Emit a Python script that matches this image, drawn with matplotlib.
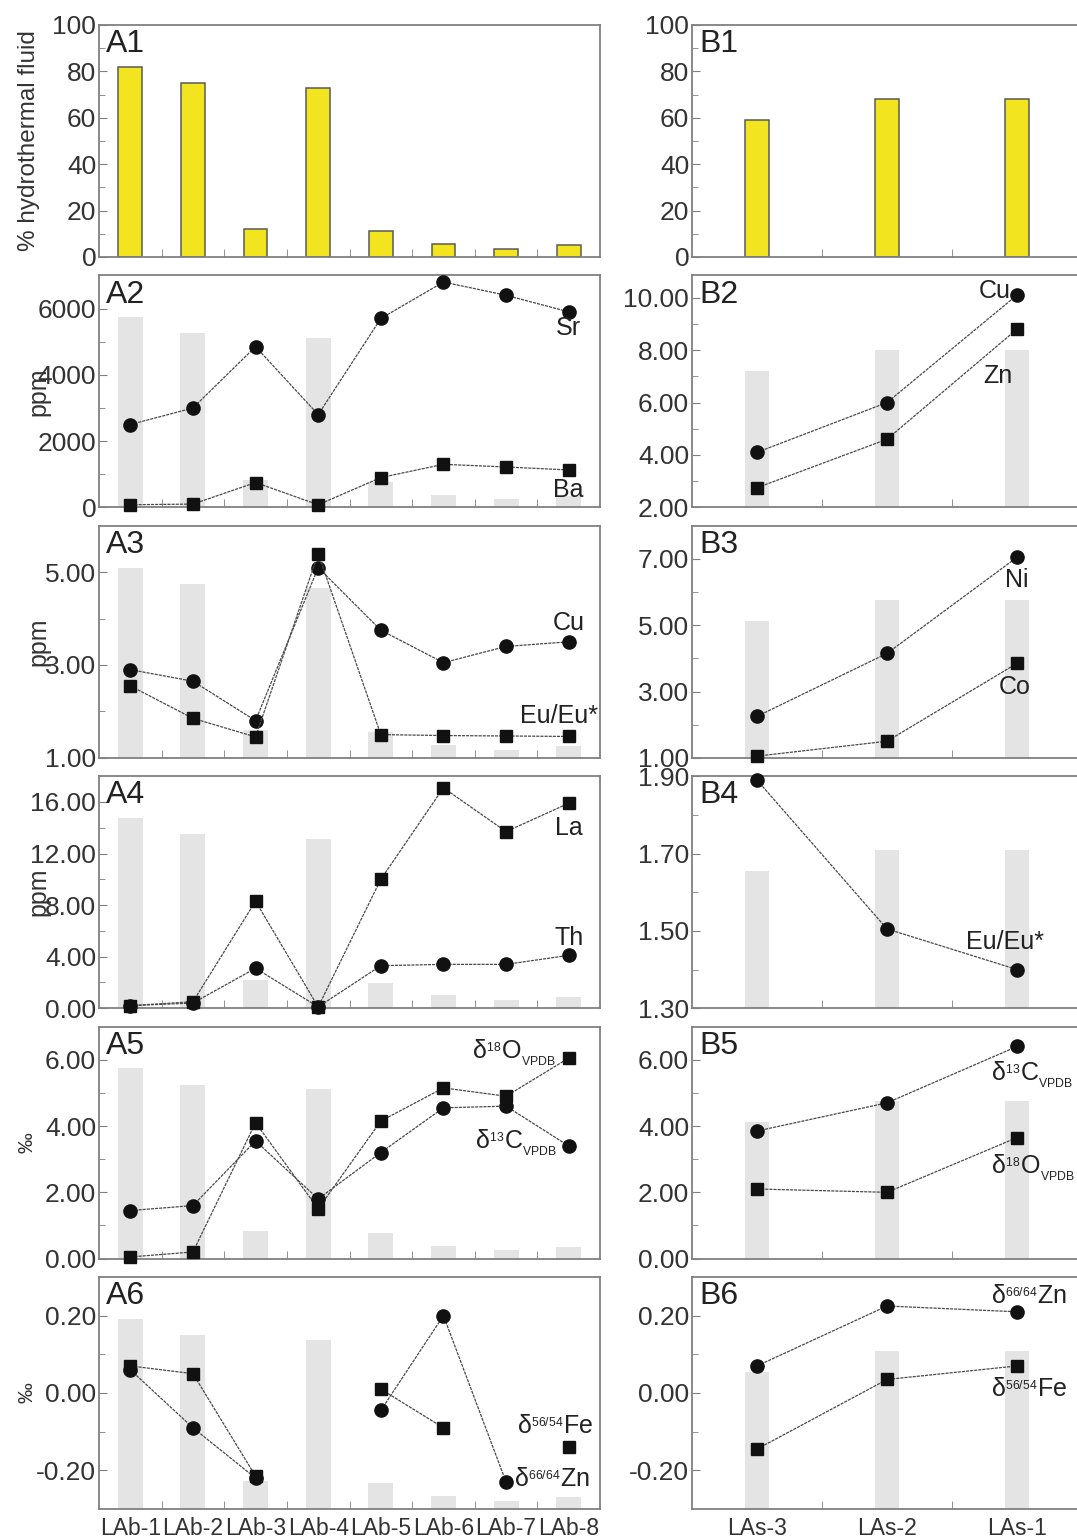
import numpy as np
import matplotlib.pyplot as plt
from matplotlib.ticker import FormatStrFormatter, FixedLocator

plt.rcParams.update({
    'font.family': ['Liberation Sans', 'DejaVu Sans'],
    'mathtext.fontset': 'custom',
    'mathtext.rm': 'Liberation Sans',
    'mathtext.it': 'Liberation Sans:italic',
    'mathtext.bf': 'Liberation Sans:bold',
    'font.size': 17,
    'text.color': '#222222',
})

nan = np.nan

samples_a = ['LAb-1', 'LAb-2', 'LAb-3', 'LAb-4', 'LAb-5', 'LAb-6', 'LAb-7', 'LAb-8']
samples_b = ['LAs-3', 'LAs-2', 'LAs-1']

# % hydrothermal fluid
fluid_a = [82, 75, 12, 73, 11, 5.5, 3.5, 5]
fluid_b = [59, 68, 68]

# column A
sr_a = [2500, 3000, 4850, 2800, 5700, 6800, 6400, 5900]
ba_a = [80, 100, 750, 80, 900, 1300, 1220, 1130]
cu_a = [2.9, 2.65, 1.8, 5.1, 3.75, 3.05, 3.4, 3.5]
eu_a = [2.55, 1.85, 1.45, 5.4, 1.5, 1.48, 1.47, 1.46]
la_a = [0.2, 0.5, 8.3, 0.1, 10.0, 17.1, 13.7, 15.9]
th_a = [0.2, 0.4, 3.1, 0.1, 3.3, 3.4, 3.4, 4.1]
d18o_a = [0.05, 0.2, 4.1, 1.5, 4.15, 5.15, 4.9, 6.05]
d13c_a = [1.45, 1.6, 3.55, 1.8, 3.2, 4.55, 4.6, 3.4]
fe_a = [0.07, 0.05, -0.215, nan, 0.01, -0.09, nan, -0.14]
zn_a = [0.06, -0.09, -0.22, nan, -0.045, 0.2, -0.23, nan]

# column B
cu_b = [4.1, 6.0, 10.1]
zn_conc_b = [2.75, 4.6, 8.8]
ni_b = [2.25, 4.15, 7.05]
co_b = [1.05, 1.5, 3.85]
eu_b = [1.89, 1.505, 1.40]
d13c_b = [3.85, 4.7, 6.4]
d18o_b = [2.1, 2.0, 3.65]
zn_b = [0.07, 0.225, 0.21]
fe_b = [-0.145, 0.035, 0.07]

# tiny super/subscripts like the original
D18O = r'δ$^{_{18}}$O$_{_{\mathrm{VPDB}}}$'
D13C = r'δ$^{_{13}}$C$_{_{\mathrm{VPDB}}}$'
DFE = r'δ$^{_{56/54}}$Fe'
DZN = r'δ$^{_{66/64}}$Zn'

# panel specs: (ylim, major ticks, minor ticks, fmt, [(values, marker)], [(text, x, y, ha)])
panels_a = [
    ((0, 7000), np.arange(0, 7000, 2000), np.arange(1000, 7000, 2000), '%d',
     [(sr_a, 'o'), (ba_a, 's')],
     [('Sr', 7, 5400, 'center'), ('Ba', 7, 520, 'center')]),
    ((1, 6), [1, 3, 5], [2, 4], '%.2f',
     [(cu_a, 'o'), (eu_a, 's')],
     [('Cu', 7, 3.9, 'center'), ('Eu/Eu*', 6.85, 1.9, 'center')]),
    ((0, 18), [0, 4, 8, 12, 16], [2, 6, 10, 14], '%.2f',
     [(la_a, 's'), (th_a, 'o')],
     [('La', 7, 14.0, 'center'), ('Th', 7, 5.45, 'center')]),
    ((0, 7), [0, 2, 4, 6], [1, 3, 5], '%.2f',
     [(d18o_a, 's'), (d13c_a, 'o')],
     [(D18O, 6.8, 6.2, 'right'), (D13C, 6.82, 3.5, 'right')]),
    ((-0.3, 0.3), [-0.2, 0, 0.2], [-0.1, 0.1], '%.2f',
     [(fe_a, 's'), (zn_a, 'o')],
     [(DFE, 6.78, -0.085, 'center'), (DZN, 6.12, -0.222, 'left')]),
]
panels_b = [
    ((2, 10.85), [2, 4, 6, 8, 10], [3, 5, 7, 9], '%.2f',
     [(cu_b, 'o'), (zn_conc_b, 's')],
     [('Cu', 1.83, 10.25, 'center'), ('Zn', 1.85, 7.0, 'center')]),
    ((1, 8), [1, 3, 5, 7], [2, 4, 6], '%.2f',
     [(ni_b, 'o'), (co_b, 's')],
     [('Ni', 2.0, 6.35, 'center'), ('Co', 1.98, 3.15, 'center')]),
    ((1.3, 1.9), [1.3, 1.5, 1.7, 1.9], [1.4, 1.6, 1.8], '%.2f',
     [(eu_b, 'o')],
     [('Eu/Eu*', 1.91, 1.47, 'center')]),
    ((0, 7), [0, 2, 4, 6], [1, 3, 5], '%.2f',
     [(d13c_b, 'o'), (d18o_b, 's')],
     [(D13C, 1.8, 5.55, 'left'), (D18O, 1.8, 2.75, 'left')]),
    ((-0.3, 0.3), [-0.2, 0, 0.2], [-0.1, 0.1], '%.2f',
     [(zn_b, 'o'), (fe_b, 's')],
     [(DZN, 1.8, 0.25, 'left'), (DFE, 1.8, 0.01, 'left')]),
]
ylabels_a = ['ppm', 'ppm', 'ppm', '‰', '‰']

W, H = 1077, 1540
fig = plt.figure(figsize=(W / 100, H / 100), dpi=100)

spine_c = '#808080'
tick_c = '#333333'
line_c = '#4a4a4a'
mark_c = '#111111'
gray_c = '#e4e4e4'
yellow_c = '#f2e41e'


def make_ax(col, row):
    if col == 0:
        left, right = 99, 600
    else:
        left, right = 692, 1082
    top = 25 + 250.4 * row
    ax = fig.add_axes([left / W, 1 - (top + 232) / H, (right - left) / W, 232 / H])
    for s in ax.spines.values():
        s.set_color(spine_c)
        s.set_linewidth(1.3)
    return ax


def style_axes(ax, n, ylim, major, minor, fmt, labels, bottom):
    ax.set_xlim(-0.5, n - 0.5)
    ax.set_ylim(*ylim)
    ax.yaxis.set_major_locator(FixedLocator(major))
    ax.yaxis.set_minor_locator(FixedLocator(minor))
    ax.yaxis.set_major_formatter(FormatStrFormatter(fmt))
    ax.set_xticks(np.arange(n))
    ax.xaxis.set_minor_locator(FixedLocator(np.arange(n - 1) + 0.5))
    ax.tick_params(axis='y', which='both', direction='in', color=spine_c,
                   labelcolor=tick_c, labelsize=19, pad=2, right=False)
    ax.tick_params(axis='y', which='major', length=6)
    ax.tick_params(axis='y', which='minor', length=4)
    ax.tick_params(axis='x', which='major', length=0, pad=6, labelsize=16.5,
                   labelcolor=tick_c)
    ax.tick_params(axis='x', which='minor', direction='in', length=6, color=spine_c)
    if bottom:
        ax.set_xticklabels(labels)
    else:
        ax.set_xticklabels([])


def panel_label(ax, text):
    ax.annotate(text, xy=(0, 1), xycoords='axes fraction', xytext=(5, -3),
                textcoords='offset points', ha='left', va='top', fontsize=23,
                color='#222222')


# row 0: hydrothermal fluid bars
for col, (vals, labels) in enumerate([(fluid_a, samples_a), (fluid_b, samples_b)]):
    ax = make_ax(col, 0)
    n = len(vals)
    bw = 0.38 if col == 0 else 0.19
    ax.bar(np.arange(n), vals, width=bw, color=yellow_c, edgecolor='#5a5a5a',
           linewidth=1.1, zorder=2)
    style_axes(ax, n, (0, 100), np.arange(0, 101, 20), np.arange(10, 100, 20),
               '%d', labels, False)
    panel_label(ax, 'A1' if col == 0 else 'B1')
    if col == 0:
        ax.set_ylabel('% hydrothermal fluid', fontsize=17.5, color=tick_c)
        ax.yaxis.set_label_coords(-0.118, 0.5)

# rows 1-5
for col, (panels, fluid, labels, letter) in enumerate(
        [(panels_a, fluid_a, samples_a, 'A'), (panels_b, fluid_b, samples_b, 'B')]):
    n = len(labels)
    bw = 0.4 if col == 0 else 0.19
    x = np.arange(n)
    for i, (ylim, major, minor, fmt, series, texts) in enumerate(panels):
        row = i + 1
        ax = make_ax(col, row)
        # grey background bars: hydrothermal fluid fraction on a hidden 0-100 scale
        bg = ax.twinx()
        bg.bar(x, fluid, width=bw, color=gray_c, linewidth=0)
        bg.set_ylim(0, 100)
        bg.axis('off')
        ax.set_zorder(bg.get_zorder() + 1)
        ax.patch.set_visible(False)

        for vals, mk in series:
            ax.plot(x, vals, color=line_c, linewidth=0.9, linestyle=(0, (2.5, 0.8)),
                    marker=mk, markersize=9.5 if mk == 'o' else 8.5,
                    markerfacecolor=mark_c, markeredgecolor=mark_c, zorder=3,
                    clip_on=False)
        for t, tx, ty, ha in texts:
            ax.text(tx, ty, t, ha=ha, va='center', fontsize=18, color='#222222')

        style_axes(ax, n, ylim, major, minor, fmt, labels, row == 5)
        panel_label(ax, f'{letter}{row + 1}')
        if col == 0:
            ylab = ylabels_a[i]
            ax.set_ylabel(ylab, fontsize=18 if ylab == 'ppm' else 15, color=tick_c)
            ax.yaxis.set_label_coords(-0.097 if ylab == 'ppm' else -0.125, 0.5)

fig.savefig('out.png', dpi=100)
